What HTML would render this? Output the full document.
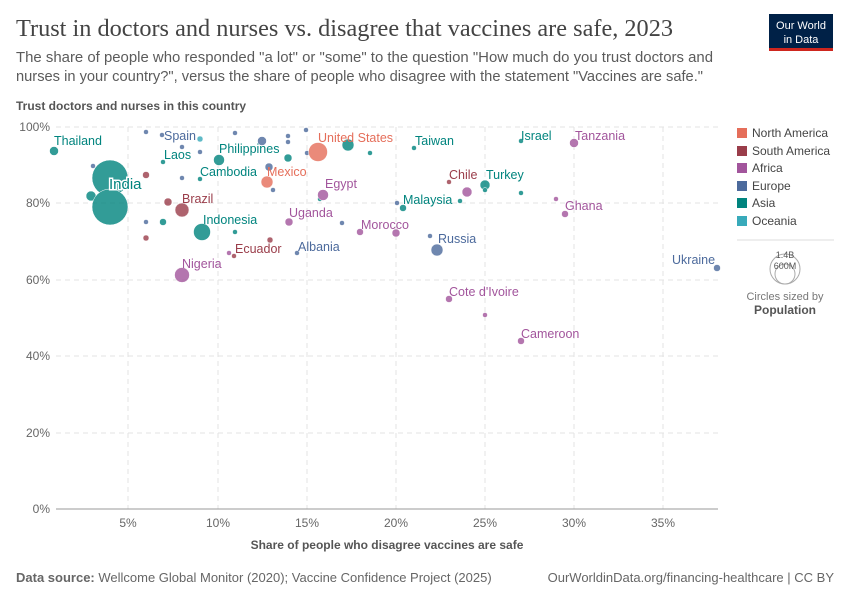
<!DOCTYPE html>
<html><head><meta charset="utf-8"><style>
body{margin:0;background:#fff;font-family:"Liberation Sans",sans-serif;}
</style></head><body>
<svg width="850" height="600" xmlns="http://www.w3.org/2000/svg" font-family="Liberation Sans, sans-serif">
<rect width="850" height="600" fill="#fff"/>
<text x="16" y="36" font-family="Liberation Serif, serif" font-size="24" fill="#444" textLength="657" lengthAdjust="spacingAndGlyphs">Trust in doctors and nurses vs. disagree that vaccines are safe, 2023</text>
<text x="16" y="62" font-size="15" fill="#5b5b5b" textLength="697" lengthAdjust="spacingAndGlyphs">The share of people who responded "a lot" or "some" to the question "How much do you trust doctors and</text>
<text x="16" y="81" font-size="15" fill="#5b5b5b" textLength="687" lengthAdjust="spacingAndGlyphs">nurses in your country?", versus the share of people who disagree with the statement "Vaccines are safe."</text>
<rect x="769" y="14" width="64" height="36" fill="#002147"/>
<rect x="769" y="48" width="64" height="3" fill="#ce261e"/>
<text x="801" y="29" font-size="11" fill="#fff" text-anchor="middle">Our World</text>
<text x="801" y="43" font-size="11" fill="#fff" text-anchor="middle">in Data</text>
<text x="16" y="110" font-size="12" font-weight="bold" fill="#555">Trust doctors and nurses in this country</text>
<g stroke="#e3e3e3" stroke-dasharray="5,4" stroke-width="1">
<line x1="56" y1="127" x2="718" y2="127"/><line x1="56" y1="203" x2="718" y2="203"/><line x1="56" y1="280" x2="718" y2="280"/><line x1="56" y1="356" x2="718" y2="356"/><line x1="56" y1="433" x2="718" y2="433"/>
<line x1="128" y1="127" x2="128" y2="509"/><line x1="218" y1="127" x2="218" y2="509"/><line x1="307" y1="127" x2="307" y2="509"/><line x1="396" y1="127" x2="396" y2="509"/><line x1="485" y1="127" x2="485" y2="509"/><line x1="574" y1="127" x2="574" y2="509"/><line x1="663" y1="127" x2="663" y2="509"/>
</g>
<line x1="56" y1="509" x2="718" y2="509" stroke="#999"/>
<g font-size="12" fill="#666" text-anchor="end">
<text x="50" y="131">100%</text><text x="50" y="207">80%</text><text x="50" y="284">60%</text><text x="50" y="360">40%</text><text x="50" y="437">20%</text><text x="50" y="513">0%</text></g>
<g font-size="12" fill="#666" text-anchor="middle">
<text x="128" y="527">5%</text><text x="218" y="527">10%</text><text x="307" y="527">15%</text><text x="396" y="527">20%</text><text x="485" y="527">25%</text><text x="574" y="527">30%</text><text x="663" y="527">35%</text></g>
<text x="387" y="549" font-size="12" font-weight="bold" fill="#555" text-anchor="middle">Share of people who disagree vaccines are safe</text>
<g stroke="#fff" stroke-width="0.5" opacity="0.8">
<g fill="#4c6a9c">
<circle cx="93" cy="166" r="2.5"/><circle cx="146" cy="132" r="2.5"/><circle cx="162" cy="135" r="2.5"/><circle cx="182" cy="147" r="2.5"/><circle cx="200" cy="152" r="2.5"/><circle cx="182" cy="178" r="2.5"/><circle cx="235" cy="133" r="2.5"/><circle cx="262" cy="141" r="4.5"/><circle cx="288" cy="136" r="2.5"/><circle cx="288" cy="142" r="2.5"/><circle cx="306" cy="130" r="2.5"/><circle cx="307" cy="153" r="2.5"/><circle cx="269" cy="167" r="4"/><circle cx="273" cy="190" r="2.5"/><circle cx="146" cy="222" r="2.5"/><circle cx="342" cy="223" r="2.5"/><circle cx="297" cy="253" r="2.5"/><circle cx="397" cy="203" r="2.5"/><circle cx="430" cy="236" r="2.5"/><circle cx="437" cy="250" r="6"/><circle cx="717" cy="268" r="3.5"/></g>
<g fill="#00847e">
<circle cx="54" cy="151" r="4.5"/><circle cx="91" cy="196" r="5"/><circle cx="110" cy="178" r="18"/><circle cx="110" cy="207" r="18"/><circle cx="163" cy="162" r="2.5"/><circle cx="219" cy="160" r="5.5"/><circle cx="200" cy="179" r="2.5"/><circle cx="288" cy="158" r="4"/><circle cx="348" cy="145" r="6"/><circle cx="370" cy="153" r="2.5"/><circle cx="163" cy="222" r="3.5"/><circle cx="202" cy="232" r="8.5"/><circle cx="235" cy="232" r="2.5"/><circle cx="320" cy="199" r="2.5"/><circle cx="414" cy="148" r="2.5"/><circle cx="521" cy="141" r="2.5"/><circle cx="485" cy="185" r="5"/><circle cx="485" cy="190" r="2.5"/><circle cx="521" cy="193" r="2.5"/><circle cx="403" cy="208" r="3.5"/><circle cx="460" cy="201" r="2.5"/></g>
<g fill="#38aaba"><circle cx="200" cy="139" r="3"/></g>
<g fill="#e56e5a"><circle cx="267" cy="182" r="6"/><circle cx="318" cy="152" r="9.5"/></g>
<g fill="#9a3d4a"><circle cx="146" cy="175" r="3.5"/><circle cx="168" cy="202" r="4"/><circle cx="182" cy="210" r="7"/><circle cx="146" cy="238" r="3"/><circle cx="270" cy="240" r="3"/><circle cx="234" cy="256" r="2.5"/><circle cx="449" cy="182" r="2.5"/></g>
<g fill="#a2559c"><circle cx="323" cy="195" r="5.5"/><circle cx="229" cy="253" r="2.5"/><circle cx="182" cy="275" r="7.5"/><circle cx="289" cy="222" r="4"/><circle cx="360" cy="232" r="3.5"/><circle cx="396" cy="233" r="4"/><circle cx="574" cy="143" r="4.5"/><circle cx="467" cy="192" r="5"/><circle cx="556" cy="199" r="2.5"/><circle cx="565" cy="214" r="3.5"/><circle cx="449" cy="299" r="3.5"/><circle cx="485" cy="315" r="2.5"/><circle cx="521" cy="341" r="3.5"/></g>
</g>
<g font-size="12.5">
<text x="54" y="145" fill="#00847e">Thailand</text>
<text x="109" y="189" fill="#00847e" font-size="15" stroke="#fff" stroke-width="3" paint-order="stroke">India</text>
<text x="164" y="140" fill="#4c6a9c">Spain</text>
<text x="164" y="159" fill="#00847e">Laos</text>
<text x="219" y="153" fill="#00847e">Philippines</text>
<text x="200" y="176" fill="#00847e">Cambodia</text>
<text x="267" y="176" fill="#e56e5a">Mexico</text>
<text x="318" y="142" fill="#e56e5a">United States</text>
<text x="325" y="188" fill="#a2559c">Egypt</text>
<text x="182" y="203" fill="#9a3d4a">Brazil</text>
<text x="203" y="224" fill="#00847e">Indonesia</text>
<text x="289" y="217" fill="#a2559c">Uganda</text>
<text x="361" y="229" fill="#a2559c">Morocco</text>
<text x="235" y="253" fill="#9a3d4a">Ecuador</text>
<text x="298" y="251" fill="#4c6a9c">Albania</text>
<text x="182" y="268" fill="#a2559c">Nigeria</text>
<text x="415" y="145" fill="#00847e">Taiwan</text>
<text x="521" y="140" fill="#00847e">Israel</text>
<text x="575" y="140" fill="#a2559c">Tanzania</text>
<text x="449" y="179" fill="#9a3d4a">Chile</text>
<text x="486" y="179" fill="#00847e">Turkey</text>
<text x="403" y="204" fill="#00847e">Malaysia</text>
<text x="565" y="210" fill="#a2559c">Ghana</text>
<text x="438" y="243" fill="#4c6a9c">Russia</text>
<text x="672" y="264" fill="#4c6a9c">Ukraine</text>
<text x="449" y="296" fill="#a2559c">Cote d'Ivoire</text>
<text x="521" y="338" fill="#a2559c">Cameroon</text>
</g>
<g font-size="12" fill="#444">
<rect x="737" y="128" width="10" height="10" fill="#e56e5a"/><text x="752" y="137">North America</text>
<rect x="737" y="146" width="10" height="10" fill="#9a3d4a"/><text x="752" y="155">South America</text>
<rect x="737" y="163" width="10" height="10" fill="#a2559c"/><text x="752" y="172">Africa</text>
<rect x="737" y="181" width="10" height="10" fill="#4c6a9c"/><text x="752" y="190">Europe</text>
<rect x="737" y="198" width="10" height="10" fill="#00847e"/><text x="752" y="207">Asia</text>
<rect x="737" y="216" width="10" height="10" fill="#38aaba"/><text x="752" y="225">Oceania</text>
</g>
<line x1="737" y1="240" x2="834" y2="240" stroke="#ddd"/>
<circle cx="785" cy="269" r="15" fill="none" stroke="#aaa"/>
<circle cx="785" cy="274" r="10" fill="none" stroke="#aaa"/>
<text x="785" y="258" font-size="9" fill="#555" text-anchor="middle">1.4B</text>
<text x="785" y="269" font-size="9" fill="#555" text-anchor="middle">600M</text>
<text x="785" y="300" font-size="11" fill="#777" text-anchor="middle">Circles sized by</text>
<text x="785" y="314" font-size="12" font-weight="bold" fill="#555" text-anchor="middle">Population</text>
<text x="16" y="582" font-size="13" fill="#666"><tspan font-weight="bold">Data source:</tspan> Wellcome Global Monitor (2020); Vaccine Confidence Project (2025)</text>
<text x="834" y="582" font-size="13" fill="#666" text-anchor="end">OurWorldinData.org/financing-healthcare | CC BY</text>
</svg>
</body></html>
